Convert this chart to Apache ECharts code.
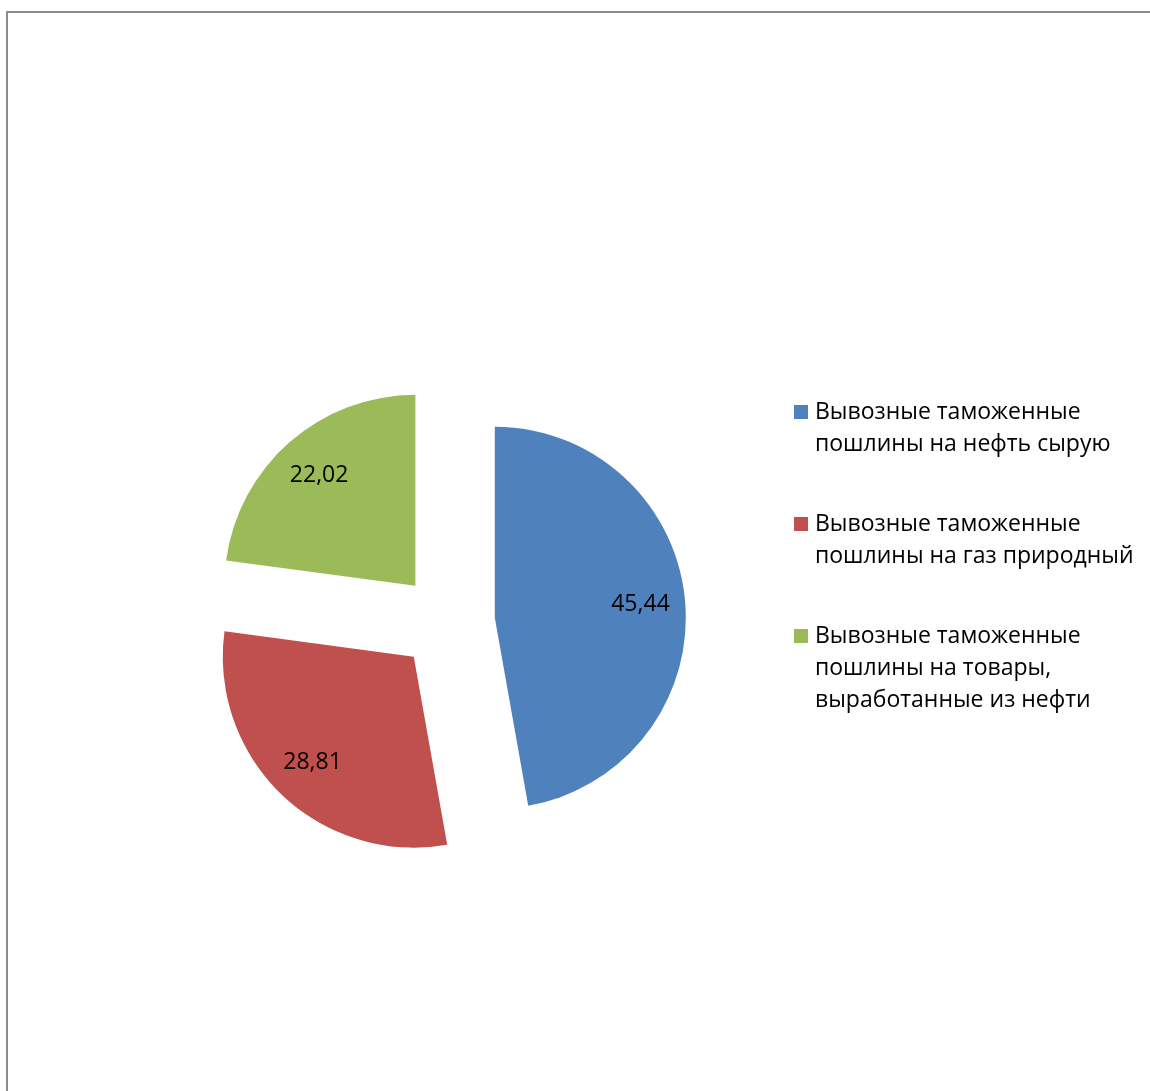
<!DOCTYPE html>
<html>
<head>
<meta charset="utf-8">
<script src="https://cdn.jsdelivr.net/npm/echarts@6/dist/echarts.min.js"></script>
<style>
  html, body { margin: 0; padding: 0; background: #ffffff; }
  #chart { width: 1150px; height: 1091px; }
</style>
</head>
<body>
<div id="chart"></div>
<script>
// ---- data ----
var categories = [
  'Вывозные таможенные пошлины на нефть сырую',
  'Вывозные таможенные пошлины на газ природный',
  'Вывозные таможенные пошлины на товары, выработанные из нефти'
];
var values = [45.44, 28.81, 22.02];
var legendLines = [
  ['Вывозные таможенные', 'пошлины на нефть сырую'],
  ['Вывозные таможенные', 'пошлины на газ природный'],
  ['Вывозные таможенные', 'пошлины на товары,', 'выработанные из нефти']
];
var colors = ['#4F81BD', '#C0504D', '#9BBB59'];

// ---- layout ----
var FONT = '"Open Sans", sans-serif';
var FS = 23;
var LH = 32;
var center = [447, 622];
var R = 191;
var explode = 48;
var firstLineCenters = [412, 524, 636];

var pieData = categories.map(function (n, i) {
  return { name: n, value: values[i], selected: true, itemStyle: { color: colors[i] } };
});
var labelData = categories.map(function (n, i) {
  return { name: n, value: values[i], selected: true, itemStyle: { color: 'rgba(0,0,0,0)' } };
});

var legends = categories.map(function (n, i) {
  var L = legendLines[i].length;
  var T = LH * (L - 1);
  var blanks = [];
  for (var k = 0; k < L - 1; k++) blanks.push('');
  var text = blanks.concat(legendLines[i]).join('\n');
  return {
    orient: 'vertical',
    left: 794,
    top: firstLineCenters[i] - LH / 2 - T,
    padding: 0,
    itemWidth: 14,
    itemHeight: 14,
    itemGap: 0,
    icon: 'rect',
    selectedMode: false,
    data: [{ name: n, itemStyle: { color: colors[i] } }],
    formatter: function () { return text; },
    textStyle: { fontFamily: FONT, fontSize: FS, lineHeight: LH, color: '#000000', padding: [0, 0, 0, 2] }
  };
});

var chart = echarts.init(document.getElementById('chart'), null, { renderer: 'canvas' });
chart.setOption({
  animation: false,
  backgroundColor: '#ffffff',
  color: colors,
  graphic: [{
    type: 'polyline',
    shape: { points: [[7, 1091], [7, 12], [1150, 12]] },
    style: { stroke: '#8c8c8c', lineWidth: 2, fill: null },
    silent: true
  }],
  legend: legends,
  series: [{
    type: 'pie',
    center: center,
    radius: R,
    startAngle: 90,
    clockwise: true,
    selectedMode: 'multiple',
    selectedOffset: explode,
    avoidLabelOverlap: false,
    label: { show: false },
    labelLine: { show: false },
    emphasis: { disabled: true },
    data: pieData
  }, {
    type: 'pie',
    center: center,
    radius: [R * 0.50, R],
    startAngle: 90,
    clockwise: true,
    selectedMode: 'multiple',
    selectedOffset: explode,
    silent: true,
    avoidLabelOverlap: false,
    label: {
      show: true,
      position: 'inside',
      fontFamily: FONT,
      fontSize: FS,
      color: '#000000',
      opacity: 1,
      formatter: function (p) { return p.value.toFixed(2).replace('.', ','); }
    },
    labelLine: { show: false },
    emphasis: { disabled: true },
    data: labelData
  }]
});
</script>
</body>
</html>
